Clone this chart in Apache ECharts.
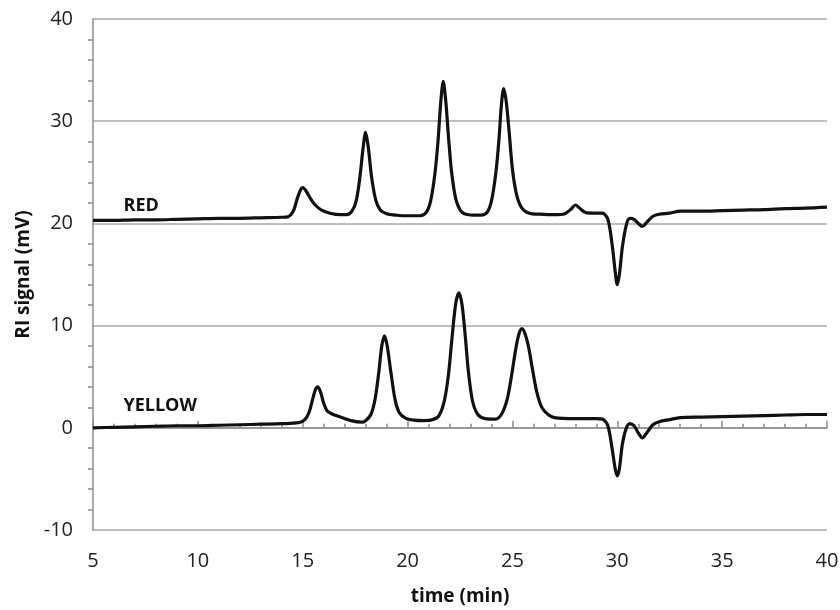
<!DOCTYPE html>
<html>
<head>
<meta charset="utf-8">
<script src="https://cdn.jsdelivr.net/npm/echarts@6/dist/echarts.min.js"></script>
<style>
    html, body { margin: 0; padding: 0; background: #fff; }
    #chart { width: 840px; height: 610px; }
</style>
</head>
<body>
<div id="chart"></div>
<script>
// RED trace (time in min, RI signal in mV)
const redTime = [5, 6, 7, 8, 9, 10, 11, 12, 13, 14,
    14.3, 14.55, 14.75, 14.9, 15.0, 15.15, 15.35, 15.6, 15.9, 16.3, 16.8,
    17.1, 17.35, 17.55, 17.72, 17.87, 18.0, 18.13, 18.28, 18.48, 18.7, 19.0, 19.5, 20.0,
    20.6, 20.9, 21.1, 21.3, 21.45, 21.58, 21.7, 21.82, 21.95, 22.1, 22.3, 22.55, 22.9,
    23.5, 23.8, 24.0, 24.2, 24.35, 24.47, 24.58, 24.7, 24.85, 25.0, 25.2, 25.45, 25.8, 26.3,
    27.0, 27.5, 27.8, 28.0, 28.2, 28.5, 29.0,
    29.3, 29.55, 29.75, 29.9, 30.0, 30.1, 30.25, 30.45, 30.6, 30.8, 31.0, 31.2, 31.4, 31.7, 32.0, 32.5, 33.0,
    34, 35, 36, 37, 38, 39, 40];
const redSignal = [20.3, 20.3, 20.35, 20.35, 20.4, 20.45, 20.5, 20.5, 20.55, 20.6,
    20.65, 21.2, 22.5, 23.3, 23.5, 23.2, 22.5, 21.8, 21.3, 21.0, 20.85,
    20.85, 21.2, 22.2, 24.4, 27.2, 28.9, 27.4, 24.6, 22.3, 21.3, 20.95, 20.8, 20.75,
    20.75, 21.1, 22.2, 24.8, 28.0, 31.8, 33.9, 32.0, 28.5, 25.0, 22.4, 21.2, 20.85,
    20.8, 21.1, 22.2, 24.8, 28.0, 31.5, 33.2, 32.0, 28.8, 25.3, 22.8, 21.5, 21.0, 20.9,
    20.85, 20.95, 21.4, 21.8, 21.5, 21.05, 21.0,
    21.0, 20.4, 18.0, 15.3, 14.0, 15.0, 17.8, 20.0, 20.5, 20.4, 20.0, 19.7, 20.1, 20.7, 20.9, 21.0, 21.2,
    21.2, 21.25, 21.3, 21.35, 21.45, 21.5, 21.6];

// YELLOW trace
const yellowTime = [5, 6, 7, 8, 9, 10, 11, 12, 13, 14,
    14.8, 15.1, 15.3, 15.5, 15.62, 15.72, 15.85, 16.0, 16.15, 16.4, 16.8, 17.3, 17.8,
    18.0, 18.25, 18.45, 18.62, 18.77, 18.9, 19.03, 19.2, 19.4, 19.6, 19.9, 20.3, 20.8,
    21.2, 21.5, 21.75, 21.95, 22.12, 22.3, 22.45, 22.6, 22.75, 22.9, 23.1, 23.35, 23.7,
    24.2, 24.5, 24.75, 24.95, 25.15, 25.3, 25.45, 25.6, 25.78, 25.95, 26.15, 26.4, 26.7, 27.0,
    28.0, 29.0, 29.3, 29.55, 29.75, 29.9, 30.0, 30.1, 30.25, 30.45, 30.6, 30.8, 31.0, 31.2, 31.4,
    31.7, 32.0, 32.5, 33.0, 34, 35, 36, 37, 38, 39, 40];
const yellowSignal = [0.0, 0.05, 0.1, 0.15, 0.2, 0.2, 0.25, 0.3, 0.35, 0.4,
    0.5, 0.8, 1.5, 3.0, 3.8, 4.0, 3.5, 2.4, 1.7, 1.35, 1.05, 0.7, 0.55,
    0.7, 1.3, 2.8, 5.3, 8.0, 9.0, 8.0, 5.5, 2.8, 1.5, 0.95, 0.75, 0.7,
    0.8, 1.2, 2.6, 5.2, 8.8, 12.2, 13.2, 12.0, 9.0, 5.5, 2.6, 1.3, 0.9,
    0.85, 1.4, 2.8, 5.0, 7.6, 9.1, 9.7, 9.2, 7.8, 5.8, 3.6, 2.0, 1.3, 1.0,
    0.9, 0.9, 0.85, 0.2, -2.0, -4.0, -4.7, -4.0, -1.5, 0.1, 0.4, 0.2, -0.5, -1.0, -0.5,
    0.3, 0.6, 0.8, 1.0, 1.05, 1.1, 1.15, 1.2, 1.25, 1.3, 1.3];

// trace names and where they sit (data coords)
const traceNames = ['RED', 'YELLOW'];
const labelAt = [[7.3, 21.7], [8.2, 2.15]];

const xTicks = [5, 10, 15, 20, 25, 30, 35, 40];
const yTicks = [-10, 0, 10, 20, 30, 40];

function pairs(xs, ys) {
    let out = [];
    for (let i = 0; i < xs.length; i++) {
        out.push([xs[i], ys[i]]);
    }
    return out;
}

const font = '"Open Sans", "Noto Sans", sans-serif';
const axisGrey = '#8c8c8c';

function traceSeries(name, xs, ys, at) {
    return {
        name: name,
        type: 'line',
        data: pairs(xs, ys),
        smooth: 0.3,
        showSymbol: false,
        lineStyle: { color: '#111', width: 3.2 },
        z: 3,
        markPoint: {
            symbolSize: 0,
            silent: true,
            data: [{
                coord: at,
                label: {
                    show: true,
                    position: 'inside',
                    formatter: name,
                    color: '#111',
                    fontFamily: font,
                    fontWeight: 'bold',
                    fontSize: 18
                }
            }]
        }
    };
}

var myChart = echarts.init(document.getElementById('chart'), null, { renderer: 'canvas' });
var option = {
    animation: false,
    backgroundColor: '#fff',
    grid: { left: 93, right: 13, top: 19, bottom: 80, outerBoundsMode: 'none' },
    xAxis: {
        type: 'value',
        min: xTicks[0],
        max: xTicks[xTicks.length - 1],
        interval: 5,
        name: 'time (min)',
        nameLocation: 'middle',
        nameGap: 57,
        nameTextStyle: { fontFamily: font, fontWeight: 'bold', fontSize: 19, color: '#111' },
        axisLine: { lineStyle: { color: axisGrey, width: 1.5 } },
        axisTick: { inside: true, length: 7, lineStyle: { color: axisGrey, width: 1.5 } },
        minorTick: { show: true, splitNumber: 5, length: 4, lineStyle: { color: axisGrey, width: 1.5 } },
        axisLabel: { fontFamily: font, fontSize: 20, color: '#222', margin: 21 },
        splitLine: { show: false }
    },
    yAxis: {
        type: 'value',
        min: yTicks[0],
        max: yTicks[yTicks.length - 1],
        interval: 10,
        name: 'RI signal (mV)',
        nameLocation: 'middle',
        nameGap: 60,
        nameRotate: 90,
        nameTextStyle: { fontFamily: font, fontWeight: 'bold', fontSize: 19, color: '#111' },
        axisLine: { show: true, lineStyle: { color: axisGrey, width: 1.5 } },
        axisTick: { show: false },
        minorTick: { show: true, splitNumber: 5, length: 5, lineStyle: { color: axisGrey, width: 1.5 } },
        axisLabel: { fontFamily: font, fontSize: 20, color: '#222', margin: 20 },
        splitLine: { lineStyle: { color: '#a8a8a8', width: 1.5 } }
    },
    series: [
        traceSeries(traceNames[0], redTime, redSignal, labelAt[0]),
        traceSeries(traceNames[1], yellowTime, yellowSignal, labelAt[1])
    ]
};
myChart.setOption(option);
</script>
</body>
</html>
